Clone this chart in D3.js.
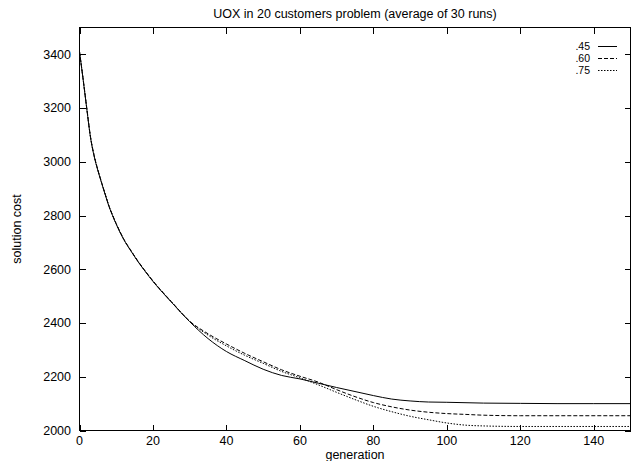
<!DOCTYPE html>
<html>
<head>
<meta charset="utf-8">
<script src="https://cdn.jsdelivr.net/npm/d3@7"></script>
<style>
  body { margin: 0; background: #fff; }
  text { font-family: "Liberation Sans", Arial, sans-serif; font-size: 12.5px; fill: #000; }
  .legend text { font-size: 10.5px; }
  .frame { fill: none; stroke: #000; stroke-width: 1; shape-rendering: crispEdges; }
  .tick { stroke: #000; stroke-width: 1; shape-rendering: crispEdges; }
  .curve { fill: none; stroke: #000; stroke-width: 1; }
</style>
</head>
<body>
<svg id="vis" width="637" height="461"></svg>
<script>
// generations
const gens45 = [0, 1, 2, 3, 4, 5, 6, 7, 8, 9, 10, 12, 14, 16, 18, 20, 22, 25, 30, 35, 40, 45, 50, 55, 60, 65, 70, 75, 80, 85, 90, 95, 100, 110, 120, 130, 140, 150];
const cost45 = [3410, 3305, 3195, 3090, 3020, 2968, 2922, 2878, 2835, 2800, 2768, 2712, 2668, 2627, 2590, 2555, 2523, 2478, 2405, 2342, 2294, 2260, 2228, 2205, 2192, 2176, 2160, 2145, 2130, 2117, 2110, 2106, 2105, 2102, 2101, 2100, 2100, 2100];

const gens60 = [0, 1, 2, 3, 4, 5, 6, 7, 8, 9, 10, 12, 14, 16, 18, 20, 22, 25, 30, 35, 40, 45, 50, 55, 60, 65, 70, 75, 80, 85, 90, 95, 100, 105, 110, 120, 130, 150];
const cost60 = [3410, 3307, 3198, 3093, 3023, 2970, 2924, 2880, 2837, 2802, 2770, 2714, 2670, 2629, 2592, 2557, 2525, 2480, 2407, 2360, 2322, 2287, 2256, 2226, 2202, 2180, 2152, 2126, 2104, 2088, 2076, 2068, 2063, 2060, 2057, 2055, 2055, 2055];

const gens75 = [0, 1, 2, 3, 4, 5, 6, 7, 8, 9, 10, 12, 14, 16, 18, 20, 22, 25, 30, 35, 40, 45, 50, 55, 60, 65, 70, 75, 80, 85, 90, 95, 100, 105, 110, 120, 150];
const cost75 = [3410, 3306, 3197, 3092, 3022, 2969, 2923, 2879, 2836, 2801, 2769, 2713, 2669, 2628, 2591, 2556, 2524, 2479, 2406, 2355, 2315, 2280, 2250, 2220, 2196, 2170, 2142, 2115, 2090, 2070, 2053, 2040, 2028, 2020, 2017, 2015, 2015];

const seriesNames = [".45", ".60", ".75"];
const dashes = [null, "4,2", "1.5,1.5"];

const xTicks = [0, 20, 40, 60, 80, 100, 120, 140];
const yTicks = [2000, 2200, 2400, 2600, 2800, 3000, 3200, 3400];

const series = [
  { name: seriesNames[0], dash: dashes[0], pts: gens45.map((g, i) => [g, cost45[i]]) },
  { name: seriesNames[1], dash: dashes[1], pts: gens60.map((g, i) => [g, cost60[i]]) },
  { name: seriesNames[2], dash: dashes[2], pts: gens75.map((g, i) => [g, cost75[i]]) }
];

const svg = d3.select("svg#vis");
const plot = { left: 79.5, right: 630.5, top: 27.5, bottom: 430.5 };

const x = d3.scaleLinear().domain([0, 150]).range([plot.left, plot.right]);
const y = d3.scaleLinear().domain([2000, 3500]).range([plot.bottom, plot.top]);

// title and axis labels
svg.append("text")
  .attr("x", (plot.left + plot.right) / 2)
  .attr("y", 18)
  .attr("text-anchor", "middle")
  .text("UOX in 20 customers problem (average of 30 runs)");

svg.append("text")
  .attr("x", (plot.left + plot.right) / 2)
  .attr("y", 459)
  .attr("text-anchor", "middle")
  .text("generation");

svg.append("text")
  .attr("transform", "translate(21," + ((plot.top + plot.bottom) / 2) + ") rotate(-90)")
  .attr("text-anchor", "middle")
  .text("solution cost");

// ticks, mirrored on all four sides, pointing inward
const tl = 6;
const gx = svg.append("g");
xTicks.forEach(function(t) {
  const px = Math.round(x(t)) + 0.5;
  gx.append("line").attr("class", "tick").attr("x1", px).attr("x2", px).attr("y1", plot.bottom).attr("y2", plot.bottom - tl);
  gx.append("line").attr("class", "tick").attr("x1", px).attr("x2", px).attr("y1", plot.top).attr("y2", plot.top + tl);
  gx.append("text").attr("x", x(t)).attr("y", 445).attr("text-anchor", "middle").text(t);
});

const gy = svg.append("g");
yTicks.forEach(function(t) {
  const py = Math.round(y(t)) + 0.5;
  gy.append("line").attr("class", "tick").attr("x1", plot.left).attr("x2", plot.left + tl).attr("y1", py).attr("y2", py);
  gy.append("line").attr("class", "tick").attr("x1", plot.right).attr("x2", plot.right - tl).attr("y1", py).attr("y2", py);
  gy.append("text").attr("x", 71).attr("y", y(t)).attr("dy", "0.35em").attr("text-anchor", "end").text(t);
});

// curves
const line = d3.line()
  .x(d => x(d[0]))
  .y(d => y(d[1]))
  .curve(d3.curveMonotoneX);

svg.append("g").selectAll("path.curve")
  .data(series)
  .enter()
  .append("path")
  .attr("class", "curve")
  .attr("d", d => line(d.pts))
  .attr("stroke-dasharray", d => d.dash);

// legend
const legend = svg.append("g").attr("class", "legend").selectAll("g")
  .data(series)
  .enter()
  .append("g")
  .attr("transform", (d, i) => "translate(0," + (46 + i * 12) + ")");

legend.append("text")
  .attr("x", 590)
  .attr("dy", "0.35em")
  .attr("text-anchor", "end")
  .text(d => d.name);

legend.append("line")
  .attr("class", "curve")
  .attr("x1", 598).attr("x2", 617)
  .attr("y1", 0.5).attr("y2", 0.5)
  .attr("stroke-dasharray", d => d.dash);

// frame on top
svg.append("rect")
  .attr("class", "frame")
  .attr("x", plot.left).attr("y", plot.top)
  .attr("width", plot.right - plot.left)
  .attr("height", plot.bottom - plot.top);
</script>
</body>
</html>
